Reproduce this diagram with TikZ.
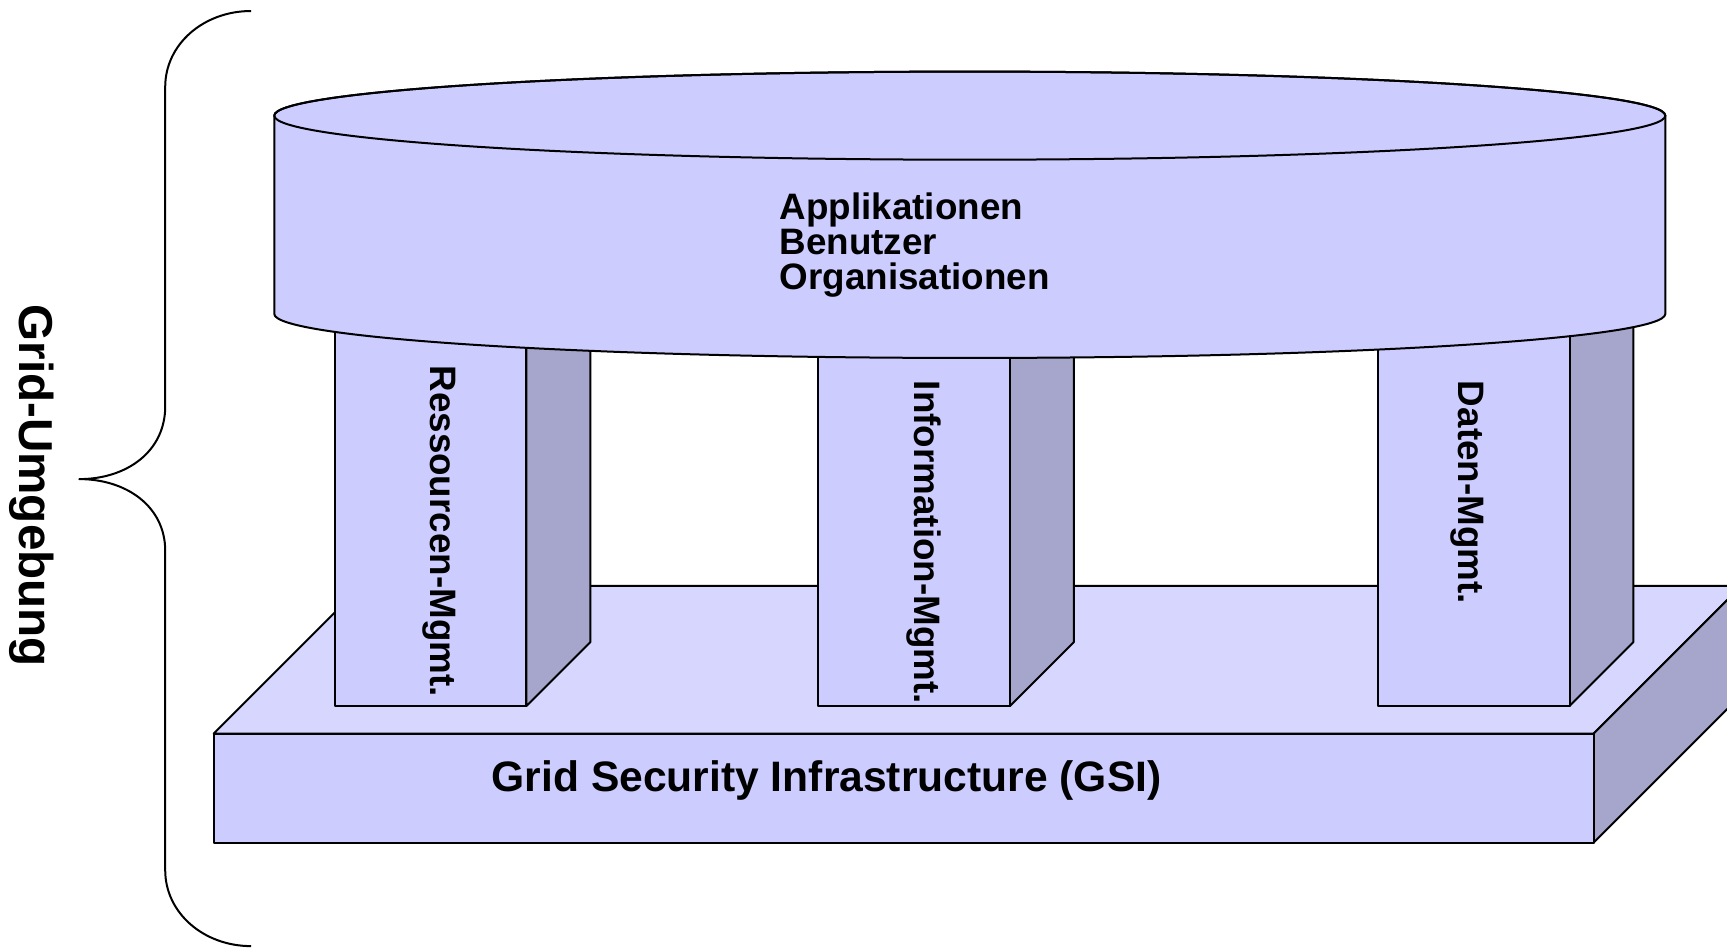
\documentclass[tikz,border=0pt]{standalone}
\usepackage{fontspec}
\setmainfont{Liberation Sans}
\usepackage{tikz}
\usetikzlibrary{calc}
\definecolor{frontcolor}{HTML}{CCCCFF}
\definecolor{topcolor}{HTML}{D6D6FF}
\definecolor{sidecolor}{HTML}{A6A6CC}

\begin{document}
\begin{tikzpicture}[x=0.5507pt,y=0.5507pt,line width=1pt,line join=round]
\useasboundingbox (0,0) rectangle (1568,860);
% base
\filldraw[fill=topcolor] (194,194) -- (1447,194) -- (1581,328) -- (328,328) -- cycle;
\filldraw[fill=sidecolor] (1447,194) -- (1581,328) -- (1581,229) -- (1447,95) -- cycle;
\filldraw[fill=frontcolor] (194,95) rectangle (1447,194);
\node[font=\fontsize{21.3}{25}\selectfont\bfseries, anchor=base, inner sep=0] (gsi) at (750.5,141) {Grid Security Infrastructure (GSI)};
% pillars
\foreach \px/\tx/\ty/\pname/\ptext in {304/398.7/529/res/Ressourcen-Mgmt., 743/838.5/515/info/Information-Mgmt., 1251/1332.6/515/data/Daten-Mgmt.}
{
  \filldraw[fill=sidecolor] (\px+174,219) -- (\px+232,277) -- (\px+232,600) -- (\px+174,600) -- cycle;
  \filldraw[fill=frontcolor] (\px,219) rectangle (\px+174,600);
  \node[font=\fontsize{18.4}{22}\selectfont\bfseries, rotate=-90, anchor=west, inner sep=0] (\pname) at (\tx,\ty) {\ptext};
}
% top
\filldraw[fill=frontcolor] (249,755) -- (249,575) arc[start angle=180, end angle=360, x radius=631.5, y radius=40] -- (1512,755) arc[start angle=0, end angle=180, x radius=631.5, y radius=40] -- cycle;
\draw (880.5,755) ellipse [x radius=631.5, y radius=40];
\node[font=\fontsize{18.4}{17.35}\selectfont\bfseries, align=left, anchor=west, inner sep=0] (apps) at (707,637.5) {Applikationen\\Benutzer\\Organisationen};
% brace
\draw (228,850) .. controls (185,850) and (150,820) .. (150,781) -- (150,491) .. controls (150,450) and (115,425) .. (72,425) .. controls (115,425) and (150,400) .. (150,360) -- (150,70) .. controls (150,31) and (185,1) .. (228,1);
\node[font=\fontsize{23.8}{28}\selectfont\bfseries, rotate=-90, inner sep=0] (env) at (29,419) {Grid-Umgebung};
\end{tikzpicture}
\end{document}
